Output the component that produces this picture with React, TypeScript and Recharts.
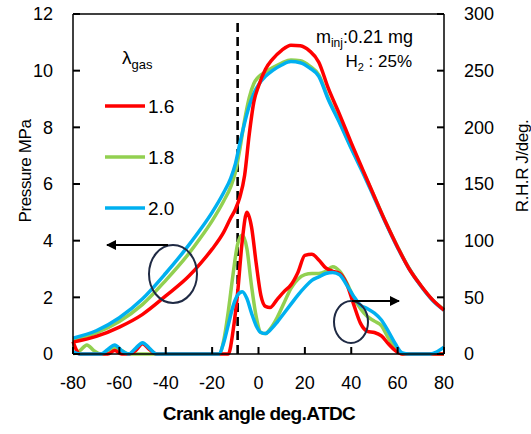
import { LineChart, Line, XAxis, YAxis, ReferenceLine } from 'recharts';

// crank angle grid for the pressure traces
const pressureAngles = [-80, -70, -60, -50, -40, -30, -25, -20, -15, -12, -10, -8, -6, -4, -2, 0, 3, 6, 10, 14, 18, 22, 26, 30, 35, 40, 45, 50, 55, 60, 65, 70, 75, 80];
const pressure16 = [0.42, 0.62, 0.95, 1.4, 2.05, 2.75, 3.2, 3.7, 4.3, 4.8, 5.1, 5.55, 6.3, 7.75, 8.9, 9.45, 10.05, 10.4, 10.72, 10.9, 10.88, 10.7, 10.3, 9.4, 8.45, 7.45, 6.5, 5.55, 4.62, 3.77, 3.0, 2.42, 1.92, 1.55];
const pressure18 = [0.5, 0.75, 1.15, 1.75, 2.6, 3.55, 4.1, 4.7, 5.4, 5.9, 6.4, 7.25, 8.25, 9.05, 9.55, 9.78, 9.95, 10.1, 10.27, 10.38, 10.35, 10.17, 9.85, 9.05, 8.2, 7.3, 6.45, 5.55, 4.63, 3.78, 3.02, 2.42, 1.92, 1.57];
const pressure20 = [0.56, 0.82, 1.28, 1.95, 2.85, 3.85, 4.4, 5.0, 5.7, 6.2, 6.7, 7.45, 8.15, 8.75, 9.2, 9.5, 9.8, 10.0, 10.2, 10.32, 10.28, 10.1, 9.8, 9.0, 8.15, 7.25, 6.4, 5.5, 4.6, 3.75, 3.0, 2.4, 1.9, 1.55];

// crank angle grid for the heat release traces
const rhrAngles = [-80, -77, -74, -71, -68, -65, -62, -59, -56, -53, -50, -47, -44, -40, -20, -17, -15, -13, -11, -9, -7, -5, -3, -1, 1, 3, 5, 8, 11, 14, 17, 20, 23, 26, 29, 32, 35, 38, 41, 44, 47, 50, 53, 56, 59, 62, 65, 70, 74, 77, 80];
const rhr16 = [11, 0, 0, 0, 0, 0, 3, 0, 0, 3, 9, 4, 0, 0, 0, 0, 0, 0, 20, 54, 100, 125, 112, 80, 52, 42, 41, 48, 55, 61, 72, 87, 88, 83, 76, 73, 71, 62, 44, 27, 20, 19, 16, 9, 3, 0, 0, 0, 0, 0, 0];
const rhr18 = [0, 3, 8, 3, 0, 1, 6, 3, 0, 0, 0, 0, 0, 0, 0, 0, 12, 38, 70, 97, 105, 93, 60, 33, 19, 18, 22, 32, 45, 58, 66, 70, 71, 71, 73, 77, 73, 63, 50, 40, 33, 29, 25, 14, 5, 0, 0, 0, 0, 0, 0];
const rhr20 = [2, 0, 0, 0, 0, 4, 8, 3, 0, 5, 10, 5, 0, 0, 0, 0, 10, 26, 42, 52, 55, 49, 36, 25, 19, 18, 21, 28, 36, 44, 52, 59, 65, 68, 71, 72, 70, 61, 51, 43, 40, 36, 30, 20, 9, 1, 0, 0, 0, 2, 6];

const xTicks = [-80, -60, -40, -20, 0, 20, 40, 60, 80];
const pTicks = [0, 2, 4, 6, 8, 10, 12];
const rTicks = [0, 50, 100, 150, 200, 250, 300];
const lambdas = ['1.6', '1.8', '2.0'];
const colors = ['#ff0000', '#92d050', '#00b0f0'];
const injectionAngle = -9;

const pressureData = pressureAngles.map((a, i) => ({ angle: a, p16: pressure16[i], p18: pressure18[i], p20: pressure20[i] }));
const rhrData = rhrAngles.map((a, i) => ({ angle: a, r16: rhr16[i], r18: rhr18[i], r20: rhr20[i] }));

const font = '"Liberation Sans", Arial, sans-serif';
const GAP_X = 22; // axis line -> top of x labels
const GAP_Y = 20; // axis line -> y labels
const TICK = 7;

// ticks point into the plot, so the tick mark is drawn together with its label
function BottomTick({ x, y, payload }: any) {
  const axisY = y - GAP_X;
  return (
    <g>
      <line x1={x} x2={x} y1={axisY} y2={axisY - TICK} stroke="#000" strokeWidth={2} />
      <text x={x} y={y} dy="0.71em" textAnchor="middle" fontSize={18} fontFamily={font} fill="#000">{payload.value}</text>
    </g>
  );
}

function LeftTick({ x, y, payload }: any) {
  const axisX = x + GAP_Y;
  return (
    <g>
      <line x1={axisX} x2={axisX + TICK} y1={y} y2={y} stroke="#000" strokeWidth={2} />
      <text x={x} y={y} dy="0.355em" textAnchor="end" fontSize={18} fontFamily={font} fill="#000">{payload.value}</text>
    </g>
  );
}

function RightTick({ x, y, payload }: any) {
  const axisX = x - GAP_Y;
  return (
    <g>
      <line x1={axisX} x2={axisX - TICK} y1={y} y2={y} stroke="#000" strokeWidth={2} />
      <text x={x} y={y} dy="0.355em" textAnchor="start" fontSize={18} fontFamily={font} fill="#000">{payload.value}</text>
    </g>
  );
}

export default function App() {
  return (
    <div style={{ position: 'absolute', left: 0, top: 0, width: 531, height: 434, background: '#fff', fontFamily: font }}>
      <LineChart width={531} height={434} margin={{ top: 14, right: 0, left: 0, bottom: 0 }}>
        <XAxis
          type="number"
          dataKey="angle"
          domain={[-80, 80]}
          ticks={xTicks}
          allowDuplicatedCategory={false}
          height={80}
          tickLine={false}
          tickSize={0}
          tickMargin={GAP_X}
          stroke="#000"
          strokeWidth={1.5}
          tick={<BottomTick />}
        />
        <YAxis
          yAxisId="p"
          domain={[0, 12]}
          ticks={pTicks}
          width={73}
          tickLine={false}
          tickSize={0}
          tickMargin={GAP_Y}
          stroke="#000"
          strokeWidth={1.5}
          tick={<LeftTick />}
        />
        <YAxis
          yAxisId="r"
          orientation="right"
          domain={[0, 300]}
          ticks={rTicks}
          width={87}
          tickLine={false}
          tickSize={0}
          tickMargin={GAP_Y}
          stroke="#000"
          strokeWidth={1.5}
          tick={<RightTick />}
        />
        <ReferenceLine yAxisId="p" y={12} stroke="#000" strokeWidth={1.5} />
        <ReferenceLine
          yAxisId="p"
          segment={[{ x: injectionAngle, y: 0 }, { x: injectionAngle, y: 11.7 }]}
          stroke="#000"
          strokeWidth={2.6}
          strokeDasharray="9 5"
        />

        <Line yAxisId="p" data={pressureData} dataKey="p18" type="monotone" stroke={colors[1]} strokeWidth={3.5} dot={false} isAnimationActive={false} />
        <Line yAxisId="p" data={pressureData} dataKey="p20" type="monotone" stroke={colors[2]} strokeWidth={3.5} dot={false} isAnimationActive={false} />
        <Line yAxisId="p" data={pressureData} dataKey="p16" type="monotone" stroke={colors[0]} strokeWidth={3.5} dot={false} isAnimationActive={false} />
        <Line yAxisId="r" data={rhrData} dataKey="r18" type="monotone" stroke={colors[1]} strokeWidth={3.5} dot={false} isAnimationActive={false} />
        <Line yAxisId="r" data={rhrData} dataKey="r16" type="monotone" stroke={colors[0]} strokeWidth={3.5} dot={false} isAnimationActive={false} />
        <Line yAxisId="r" data={rhrData} dataKey="r20" type="monotone" stroke={colors[2]} strokeWidth={3.5} dot={false} isAnimationActive={false} />
      </LineChart>

      <svg width={531} height={434} style={{ position: 'absolute', left: 0, top: 0, pointerEvents: 'none' }}>
        <defs>
          <marker id="arr" markerWidth="10" markerHeight="10" refX="9" refY="5" orient="auto" markerUnits="userSpaceOnUse">
            <path d="M0,0 L10,5 L0,10 Z" fill="#000" />
          </marker>
        </defs>

        {/* legend */}
        <text x={122} y={64} fontSize={19} fontFamily={font}>
          λ<tspan fontSize={13} dy={5}>gas</tspan>
        </text>
        {lambdas.map((l, i) => (
          <g key={l}>
            <line x1={105} x2={145} y1={106 + i * 51} y2={106 + i * 51} stroke={colors[i]} strokeWidth={3.5} />
            <text x={148} y={113 + i * 51} fontSize={19} fontFamily={font}>{l}</text>
          </g>
        ))}

        {/* conditions */}
        <text x={413} y={43} textAnchor="end" fontSize={18} fontFamily={font}>
          m<tspan fontSize={12} dy={4}>inj</tspan><tspan dy={-4}>:0.21 mg</tspan>
        </text>
        <text x={412} y={67} textAnchor="end" fontSize={17} fontFamily={font}>
          H<tspan fontSize={11} dy={4}>2</tspan><tspan dy={-4}> : 25%</tspan>
        </text>

        {/* axis indicators */}
        <ellipse cx={173} cy={274} rx={24} ry={29} fill="none" stroke="#1f2a44" strokeWidth={2} />
        <line x1={168} y1={245} x2={107} y2={245} stroke="#000" strokeWidth={2} markerEnd="url(#arr)" />
        <ellipse cx={351} cy={322} rx={17} ry={21} fill="none" stroke="#1f2a44" strokeWidth={2} />
        <line x1={352} y1={301} x2={399} y2={301} stroke="#000" strokeWidth={2} markerEnd="url(#arr)" />

        {/* axis titles */}
        <text x={259} y={420} textAnchor="middle" fontSize={19} fontWeight="bold" fontFamily={font} letterSpacing={-0.6}>
          Crank angle deg.ATDC
        </text>
        <text transform="translate(31,171) rotate(-90)" textAnchor="middle" fontSize={17} fontFamily={font} letterSpacing={-0.4}>
          Pressure MPa
        </text>
        <text transform="translate(528,166) rotate(-90)" textAnchor="middle" fontSize={17} fontFamily={font} letterSpacing={-0.4}>
          R.H.R J/deg.
        </text>
      </svg>
    </div>
  );
}
